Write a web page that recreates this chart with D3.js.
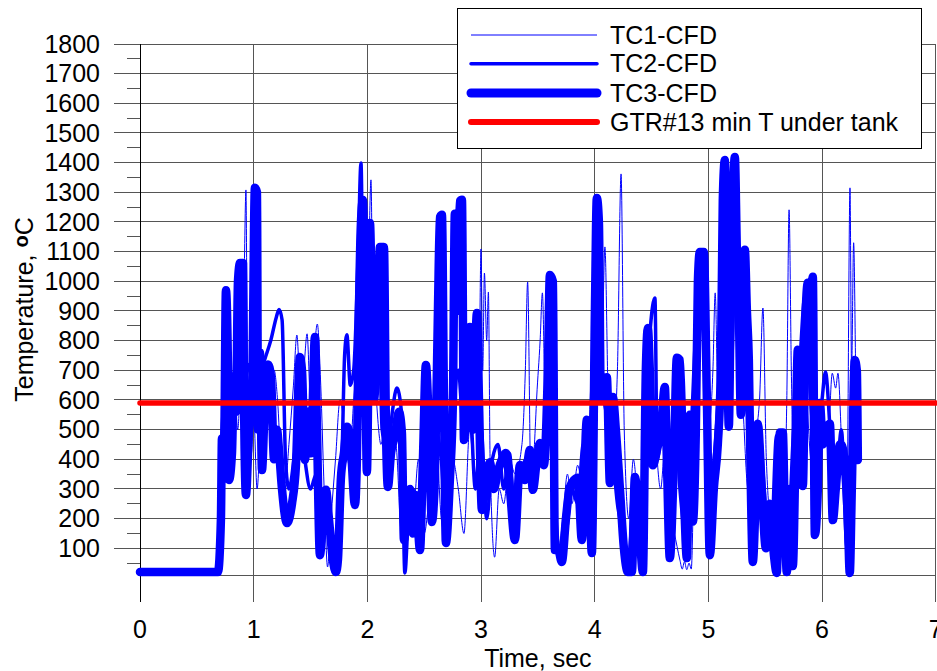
<!DOCTYPE html>
<html lang="en">
<head>
<meta charset="UTF-8">
<title>Temperature</title>
<script src="https://cdn.jsdelivr.net/npm/d3@7"></script>
<style>
*{margin:0; padding:0;}
body{background:#fff;}
text{font-family:"Liberation Sans", Arial, sans-serif; fill:#000;}
</style>
</head>
<body>
<script>
// series (time in sec, temperature in C)
var tc1Time = [0,0.69,0.71,0.73,0.75,0.77,0.80,0.83,0.86,0.90,0.915,0.932,0.945,0.96,0.98,1.00,1.03,1.06,1.09,1.12,1.15,1.18,1.21,1.24,1.28,1.31,1.35,1.38,1.41,1.44,1.47,1.50,1.53,1.56,1.59,1.62,1.65,1.68,1.72,1.76,1.80,1.84,1.88,1.92,1.96,2.00,2.032,2.05,2.08,2.12,2.16,2.20,2.25,2.30,2.35,2.40,2.45,2.50,2.55,2.60,2.65,2.70,2.75,2.80,2.85,2.90,2.95,2.985,3.00,3.015,3.03,3.05,3.065,3.08,3.12,3.16,3.20,3.25,3.30,3.36,3.39,3.41,3.44,3.47,3.49,3.52,3.54,3.57,3.60,3.64,3.68,3.72,3.76,3.80,3.85,3.90,3.95,3.99,4.03,4.06,4.09,4.12,4.16,4.20,4.232,4.26,4.30,4.34,4.38,4.42,4.46,4.50,4.54,4.58,4.62,4.66,4.70,4.75,4.77,4.79,4.81,4.83,4.85,4.87,4.90,4.95,5.00,5.04,5.06,5.09,5.13,5.17,5.21,5.25,5.30,5.35,5.40,5.45,5.48,5.51,5.55,5.60,5.65,5.69,5.71,5.73,5.76,5.80,5.85,5.90,5.95,6.00,6.05,6.09,6.12,6.14,6.18,6.22,6.246,6.26,6.278,6.30,6.32];
var tc1Temp = [20,20,150,480,350,600,380,650,500,900,1000,1308,700,600,420,550,300,500,650,730,640,700,600,400,320,450,650,819,650,700,823,600,750,856,650,300,37,200,400,600,500,380,600,800,1100,900,1342,800,600,450,550,300,450,150,300,200,400,150,300,500,200,120,400,300,150,500,300,700,1109,700,1028,800,964,400,70,300,250,400,350,450,700,998,300,450,610,800,961,500,700,200,100,200,350,250,380,300,500,900,1000,700,1116,600,450,700,1362,500,200,400,250,100,500,700,450,300,450,200,150,60,30,55,28,50,30,300,700,950,500,700,961,500,1000,700,1200,800,600,300,450,600,910,400,200,300,150,600,1241,700,200,500,650,400,300,550,450,690,640,690,400,300,1315,700,1130,600,400];

var tc2Time = [0,0.69,0.72,0.76,0.80,0.85,0.90,0.95,1.00,1.05,1.10,1.15,1.20,1.223,1.25,1.28,1.31,1.36,1.40,1.45,1.50,1.55,1.60,1.66,1.70,1.74,1.78,1.80,1.82,1.85,1.88,1.92,1.944,1.96,1.99,2.03,2.07,2.10,2.13,2.18,2.22,2.26,2.30,2.33,2.36,2.40,2.45,2.50,2.55,2.60,2.65,2.70,2.75,2.80,2.85,2.90,2.95,3.00,3.05,3.10,3.15,3.20,3.25,3.30,3.35,3.40,3.45,3.50,3.55,3.60,3.65,3.70,3.75,3.80,3.85,3.90,3.95,4.00,4.02,4.05,4.10,4.15,4.20,4.25,4.30,4.35,4.40,4.45,4.53,4.55,4.60,4.65,4.70,4.75,4.80,4.85,4.90,4.95,5.00,5.05,5.10,5.13,5.15,5.20,5.25,5.28,5.32,5.36,5.40,5.45,5.50,5.55,5.60,5.65,5.70,5.75,5.80,5.85,5.90,5.95,6.00,6.03,6.08,6.12,6.17,6.22,6.26,6.29,6.31];
var tc2Temp = [20,20,480,650,420,700,550,720,650,680,740,800,880,905,870,400,300,420,560,400,300,350,100,250,30,40,450,750,820,650,700,1100,1399,1000,600,900,700,900,500,420,560,640,560,17,200,300,200,600,250,500,400,150,500,700,480,600,300,500,200,400,450,300,420,180,350,400,300,430,400,600,250,80,150,300,250,450,200,700,1180,700,560,450,250,150,80,300,150,600,944,400,520,200,600,300,150,500,900,1000,300,400,750,1200,900,700,1300,800,1000,450,200,500,250,100,480,300,150,500,700,950,600,400,600,694,450,300,500,100,300,700,450];

var tc3Time = [0,0.686,0.712,0.721,0.739,0.756,0.774,0.783,0.809,0.827,0.844,0.862,0.880,0.906,0.915,0.932,0.959,0.985,1.011,1.029,1.038,1.055,1.073,1.099,1.126,1.152,1.179,1.205,1.223,1.249,1.293,1.337,1.372,1.407,1.425,1.451,1.478,1.504,1.539,1.557,1.583,1.609,1.636,1.662,1.697,1.724,1.741,1.768,1.794,1.821,1.847,1.891,1.908,1.926,1.944,1.961,1.979,1.996,2.014,2.023,2.040,2.058,2.093,2.111,2.146,2.164,2.181,2.208,2.243,2.278,2.304,2.322,2.348,2.375,2.401,2.427,2.463,2.489,2.515,2.542,2.568,2.595,2.621,2.639,2.656,2.674,2.691,2.726,2.753,2.770,2.788,2.814,2.832,2.850,2.876,2.902,2.929,2.964,2.982,3.008,3.043,3.078,3.113,3.149,3.184,3.219,3.254,3.298,3.342,3.386,3.430,3.456,3.492,3.518,3.553,3.588,3.606,3.632,3.650,3.676,3.711,3.747,3.782,3.817,3.852,3.887,3.931,3.949,3.975,4.002,4.019,4.037,4.054,4.081,4.107,4.134,4.160,4.186,4.222,4.257,4.292,4.327,4.354,4.389,4.424,4.450,4.468,4.485,4.512,4.547,4.582,4.617,4.635,4.661,4.697,4.723,4.749,4.784,4.811,4.837,4.864,4.890,4.908,4.925,4.960,4.987,5.013,5.048,5.083,5.110,5.127,5.145,5.163,5.180,5.198,5.215,5.233,5.251,5.268,5.286,5.303,5.321,5.339,5.356,5.374,5.391,5.418,5.435,5.470,5.506,5.541,5.576,5.602,5.629,5.655,5.673,5.690,5.717,5.743,5.770,5.787,5.813,5.831,5.857,5.875,5.893,5.919,5.937,5.963,5.981,6.007,6.033,6.069,6.095,6.121,6.157,6.174,6.200,6.227,6.244,6.262,6.288,6.306,6.315];
var tc3Temp = [20,20,200,470,420,970,700,330,420,680,560,1000,1062,1062,600,280,500,600,1315,1300,500,760,364,600,720,680,400,500,430,300,185,250,380,745,700,398,560,420,812,500,77,200,297,200,60,20,60,340,420,510,480,246,400,900,1200,1274,900,357,900,1197,900,600,900,1116,1116,500,307,420,480,560,489,128,250,300,150,280,94,400,718,500,189,350,900,1217,1224,600,118,330,600,1228,900,1270,1275,465,620,846,500,893,600,229,330,390,300,360,400,421,300,128,381,330,431,297,400,455,380,700,1021,1000,94,100,54,200,307,330,338,128,533,400,84,900,1281,1200,600,650,677,320,610,500,300,100,20,20,340,200,20,700,843,700,380,430,500,644,400,67,400,742,735,300,67,550,190,500,1000,1099,1099,600,77,300,450,700,1274,1409,900,510,1000,1274,1419,1100,906,550,900,1106,900,735,300,54,300,520,300,100,250,80,17,490,490,200,20,300,40,500,769,600,310,900,995,900,1015,145,300,590,450,500,520,195,300,450,448,380,200,17,300,735,700,398];

var gtrMinT = 590;

var xTicks = [0, 1, 2, 3, 4, 5, 6, 7];
var yTicks = [100,200,300,400,500,600,700,800,900,1000,1100,1200,1300,1400,1500,1600,1700,1800];
var yMinorTicks = [50,150,250,350,450,550,650,750,850,950,1050,1150,1250,1350,1450,1550,1650,1750];
var legendNames = ["TC1-CFD", "TC2-CFD", "TC3-CFD", "GTR#13 min T under tank"];

var width = 937, height = 671;
var plotL = 140, plotR = 935.7, plotT = 44, plotB = 575;

var svg = d3.select("body").append("svg")
	.attr("width", width)
	.attr("height", height);

var x = d3.scaleLinear().domain([0, 7]).range([plotL, plotR]);
var y = d3.scaleLinear().domain([10, 1800]).range([plotB, plotT]);

// grid
var grid = svg.append("g").attr("shape-rendering", "crispEdges");
grid.selectAll("line.h").data(yTicks).enter().append("line")
	.attr("x1", plotL - 26).attr("x2", plotR)
	.attr("y1", function(d){ return y(d); }).attr("y2", function(d){ return y(d); })
	.attr("stroke", "#555");
grid.selectAll("line.m").data(yMinorTicks).enter().append("line")
	.attr("x1", plotL - 13).attr("x2", plotL)
	.attr("y1", function(d){ return y(d); }).attr("y2", function(d){ return y(d); })
	.attr("stroke", "#555");
grid.selectAll("line.v").data(xTicks).enter().append("line")
	.attr("x1", function(d){ return x(d); }).attr("x2", function(d){ return x(d); })
	.attr("y1", plotT).attr("y2", plotB + 27)
	.attr("stroke", function(d){ return d === 0 ? "#000" : "#555"; });
grid.append("line")
	.attr("x1", plotL).attr("x2", plotR)
	.attr("y1", plotB).attr("y2", plotB)
	.attr("stroke", "#555");

// tick labels
svg.selectAll("text.yl").data(yTicks).enter().append("text")
	.attr("x", 100).attr("y", function(d){ return y(d); })
	.attr("dy", "0.35em")
	.attr("text-anchor", "end")
	.attr("font-size", 25)
	.text(function(d){ return d; });
svg.selectAll("text.xl").data(xTicks).enter().append("text")
	.attr("x", function(d){ return x(d); }).attr("y", 638)
	.attr("text-anchor", "middle")
	.attr("font-size", 25)
	.text(function(d){ return d; });

svg.append("text")
	.attr("x", (plotL + plotR) / 2).attr("y", 667)
	.attr("text-anchor", "middle")
	.attr("font-size", 25)
	.text("Time, sec");

var yt = svg.append("text")
	.attr("transform", "translate(33," + ((plotT + plotB) / 2) + ") rotate(-90)")
	.attr("text-anchor", "middle")
	.attr("font-size", 25);
yt.append("tspan").text("Temperature, ");
yt.append("tspan").attr("font-weight", "bold").attr("font-size", 20).attr("dy", -5).text("o");
yt.append("tspan").attr("dy", 5).text("C");

// series
function pts(ts, vs){ return ts.map(function(t, i){ return [t, vs[i]]; }); }
var line = d3.line()
	.x(function(d){ return x(d[0]); })
	.y(function(d){ return y(d[1]); })
	.curve(d3.curveMonotoneX);

var series = [
	{data: pts(tc3Time, tc3Temp), w: 8.5},
	{data: pts(tc2Time, tc2Temp), w: 3.5},
	{data: pts(tc1Time, tc1Temp), w: 1}
];
svg.append("g").selectAll("path").data(series).enter().append("path")
	.attr("d", function(d){ return line(d.data); })
	.attr("fill", "none")
	.attr("stroke", "#0000ff")
	.attr("stroke-width", function(d){ return d.w; })
	.attr("stroke-linejoin", "round")
	.attr("stroke-linecap", "round");

svg.append("line")
	.attr("x1", x(0)).attr("x2", x(7))
	.attr("y1", y(gtrMinT)).attr("y2", y(gtrMinT))
	.attr("stroke", "#ff0000")
	.attr("stroke-width", 5.5)
	.attr("stroke-linecap", "round");

// legend
var lg = svg.append("g");
lg.append("rect")
	.attr("x", 457.5).attr("y", 8.5).attr("width", 464).attr("height", 140)
	.attr("fill", "#fff").attr("stroke", "#000");
var lgStyle = [
	{c: "#0000ff", w: 1, cap: "butt"},
	{c: "#0000ff", w: 3.5, cap: "round"},
	{c: "#0000ff", w: 9, cap: "round"},
	{c: "#ff0000", w: 6, cap: "round"}
];
var lgY = [35, 63.7, 93, 122];
legendNames.forEach(function(name, i){
	lg.append("line")
		.attr("x1", 471).attr("x2", 597)
		.attr("y1", lgY[i]).attr("y2", lgY[i])
		.attr("stroke", lgStyle[i].c)
		.attr("stroke-width", lgStyle[i].w)
		.attr("stroke-linecap", lgStyle[i].cap);
	lg.append("text")
		.attr("x", 610).attr("y", lgY[i])
		.attr("dy", "0.35em")
		.attr("font-size", 25)
		.text(name);
});
</script>
</body>
</html>
